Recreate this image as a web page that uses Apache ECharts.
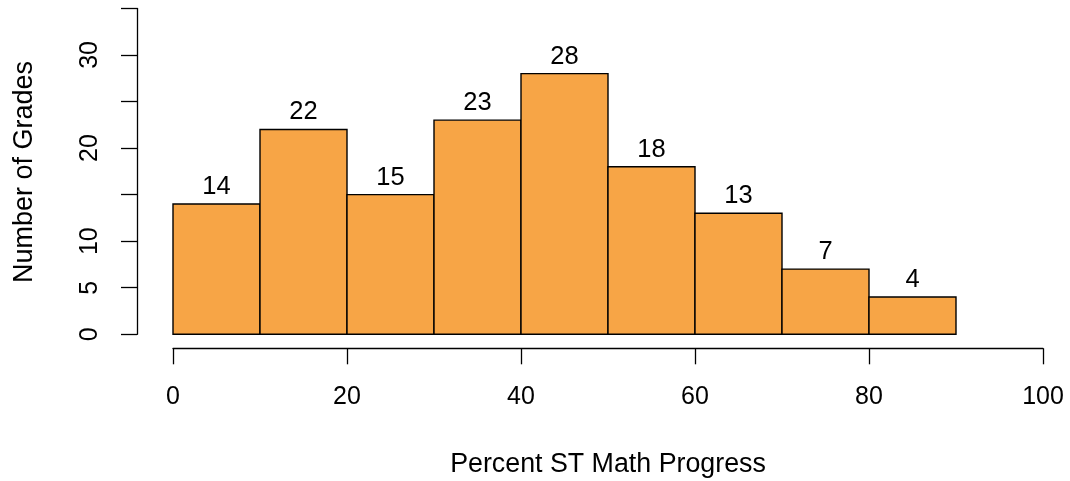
<!DOCTYPE html>
<html>
<head>
<meta charset="utf-8">
<script src="https://cdn.jsdelivr.net/npm/echarts@6/dist/echarts.min.js"></script>
<style>
  html, body { margin: 0; padding: 0; background: #fff; }
  #main { width: 1070px; height: 481px; }
</style>
</head>
<body>
<div id="main"></div>
<script>
// histogram breaks and counts
var breaks = [0, 10, 20, 30, 40, 50, 60, 70, 80, 90];
var counts = [14, 22, 15, 23, 28, 18, 13, 7, 4];
var xTicks = [0, 20, 40, 60, 80, 100];
var yLabels = [0, 5, 10, 20, 30];

var chart = echarts.init(document.getElementById('main'));

var binData = [];
for (var i = 0; i < counts.length; i++) {
  binData.push([breaks[i], breaks[i + 1], counts[i]]);
}

var font = 'Liberation Sans, Arial, Helvetica, sans-serif';

var option = {
  animation: false,
  grid: { left: 173, right: 27, top: 8.4, bottom: 146.7 },
  xAxis: {
    type: 'value',
    min: 0, max: 100, interval: 20,
    offset: 14,
    splitLine: { show: false },
    axisLine: { show: true, onZero: false, lineStyle: { color: '#000', width: 1.3 } },
    axisTick: { show: true, length: 16, lineStyle: { color: '#000', width: 1.3 } },
    axisLabel: {
      margin: 36, color: '#000', fontSize: 25, fontFamily: font,
      formatter: function (v) { return xTicks.indexOf(v) > -1 ? String(v) : ''; }
    }
  },
  yAxis: {
    type: 'value',
    min: 0, max: 35, interval: 5,
    offset: 36,
    splitLine: { show: false },
    axisLine: { show: true, onZero: false, lineStyle: { color: '#000', width: 1.3 } },
    axisTick: { show: true, length: 16, lineStyle: { color: '#000', width: 1.3 } },
    axisLabel: {
      rotate: 90, margin: 34, color: '#000', fontSize: 25, fontFamily: font,
      formatter: function (v) { return yLabels.indexOf(v) > -1 ? String(v) : ''; }
    }
  },
  graphic: [
    {
      // centred on the plot region, like R does
      type: 'text', x: 608, y: 451,
      style: { text: 'Percent ST Math Progress', fontSize: 26.8, fontFamily: font, fill: '#000',
               align: 'center', verticalAlign: 'top' }
    },
    {
      type: 'text', x: 11, y: 172, rotation: Math.PI / 2,
      style: { text: 'Number of Grades', fontSize: 27, fontFamily: font, fill: '#000',
               align: 'center', verticalAlign: 'top' }
    }
  ],
  series: [{
    type: 'custom',
    data: binData,
    renderItem: function (params, api) {
      var p0 = api.coord([api.value(0), 0]);
      var p1 = api.coord([api.value(1), api.value(2)]);
      return {
        type: 'group',
        children: [
          {
            type: 'rect',
            shape: { x: p0[0], y: p1[1], width: p1[0] - p0[0], height: p0[1] - p1[1] },
            style: { fill: '#f7a546', stroke: '#000', lineWidth: 1.4 }
          },
          {
            type: 'text',
            x: (p0[0] + p1[0]) / 2, y: p1[1] - 4,
            style: { text: String(api.value(2)), fontSize: 25.5, fontFamily: font, fill: '#000',
                     align: 'center', verticalAlign: 'bottom' }
          }
        ]
      };
    }
  }]
};

chart.setOption(option);
</script>
</body>
</html>
